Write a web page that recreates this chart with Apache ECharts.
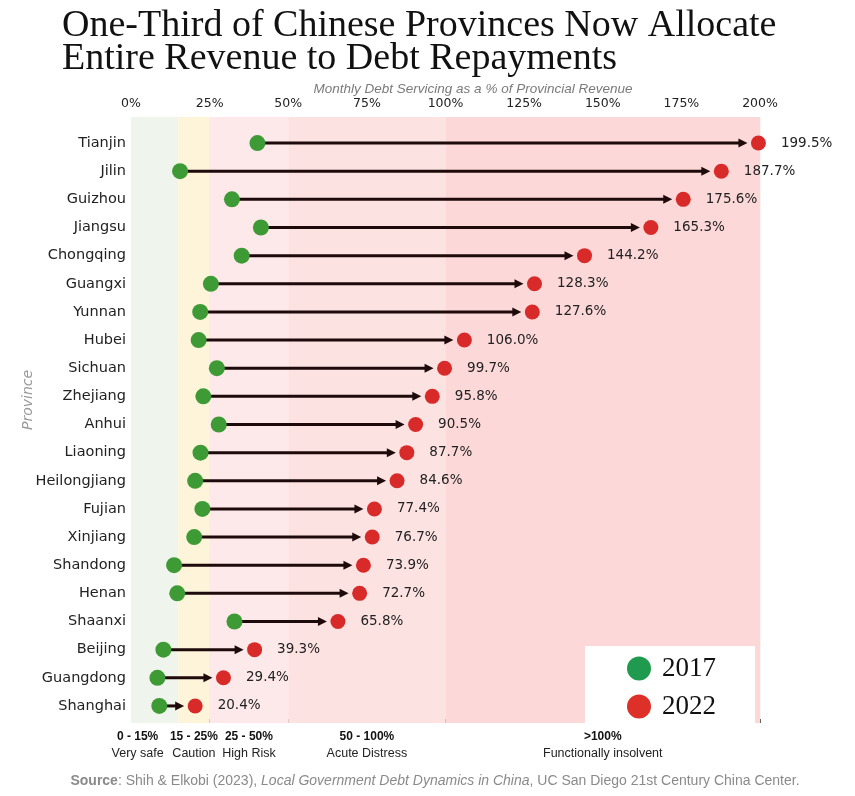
<!DOCTYPE html>
<html>
<head>
<meta charset="utf-8">
<script src="https://cdn.jsdelivr.net/npm/echarts@6/dist/echarts.min.js"></script>
<style>
  html, body { margin: 0; padding: 0; background: #fff; }
  #chart { width: 855px; height: 796px; }
</style>
</head>
<body>
<div id="chart"></div>
<script>
// provinces, top to bottom
const provinces = ['Tianjin', 'Jilin', 'Guizhou', 'Jiangsu', 'Chongqing', 'Guangxi', 'Yunnan', 'Hubei',
  'Sichuan', 'Zhejiang', 'Anhui', 'Liaoning', 'Heilongjiang', 'Fujian', 'Xinjiang', 'Shandong',
  'Henan', 'Shaanxi', 'Beijing', 'Guangdong', 'Shanghai'];
// monthly debt servicing as % of provincial revenue
const debt2017 = [40.2, 15.6, 32.1, 41.3, 35.2, 25.4, 22.0, 21.5, 27.3, 23.0, 27.9,
  22.1, 20.4, 22.7, 20.1, 13.7, 14.7, 32.9, 10.3, 8.4, 9.0];
const debt2022 = [199.5, 187.7, 175.6, 165.3, 144.2, 128.3, 127.6, 106.0, 99.7, 95.8, 90.5,
  87.7, 84.6, 77.4, 76.7, 73.9, 72.7, 65.8, 39.3, 29.4, 20.4];

// risk bands
const bandEdges = [0, 15, 25, 50, 100, 200];
const bandRanges = ['0 - 15%', '15 - 25%', '25 - 50%', '50 - 100%', '>100%'];
const bandNames = ['Very safe', 'Caution', 'High Risk', 'Acute Distress', 'Functionally insolvent'];
const bandColors = ['#eff5ed', '#fdf4da', '#fde9e9', '#fde2e2', '#fdd8d8'];

const GREEN = '#3d9a34';
const RED = '#d92a2a';
const ARROW = '#1e0a0a';
const sans = "'Liberation Sans', sans-serif";

const chart = echarts.init(document.getElementById('chart'));

const bandAreas = bandEdges.slice(0, -1).map((from, i) => [
  {
    xAxis: from,
    itemStyle: { color: bandColors[i] },
    label: {
      show: true,
      position: 'bottom',
      distance: 5,
      offset: i === 0 ? [-17, 0] : [0, 0],
      formatter: '{b|' + bandRanges[i] + '}\n{n|' + bandNames[i] + '}',
      rich: {
        b: { fontFamily: sans, fontWeight: 'bold', fontSize: 12, color: '#111', lineHeight: 17, align: 'center' },
        n: { fontFamily: sans, fontSize: 12.5, color: '#222', lineHeight: 17, align: 'center' }
      }
    }
  },
  { xAxis: bandEdges[i + 1] }
]);

const option = {
  backgroundColor: '#fff',
  animation: false,
  title: [
    {
      text: 'One-Third of Chinese Provinces Now Allocate\nEntire Revenue to Debt Repayments',
      left: 57,
      top: 5,
      textStyle: {
        fontFamily: "'Liberation Serif', serif",
        fontWeight: 'normal',
        fontSize: 38,
        lineHeight: 33,
        color: '#111'
      }
    },
    {
      text: 'Monthly Debt Servicing as a % of Provincial Revenue',
      left: 468,
      top: 77,
      textAlign: 'center',
      textStyle: {
        fontFamily: sans,
        fontStyle: 'italic',
        fontWeight: 'normal',
        fontSize: 13.5,
        color: '#7a7a7a'
      }
    },
    {
      text: '{b|Source}: Shih & Elkobi (2023), {i|Local Government Debt Dynamics in China}, UC San Diego 21st Century China Center.',
      left: 430,
      top: 769,
      textAlign: 'center',
      textStyle: {
        fontFamily: sans,
        fontWeight: 'normal',
        fontSize: 14,
        color: '#8a8a8a',
        rich: {
          b: { fontFamily: sans, fontWeight: 'bold', fontSize: 14, color: '#8a8a8a' },
          i: { fontFamily: sans, fontStyle: 'italic', fontSize: 14, color: '#8a8a8a' }
        }
      }
    }
  ],
  legend: {
    orient: 'vertical',
    left: 585,
    top: 646,
    padding: [9, 39, 8, 42],
    itemGap: 11,
    itemWidth: 24,
    itemHeight: 24,
    icon: 'circle',
    backgroundColor: '#fff',
    textStyle: {
      fontFamily: "'Liberation Serif', serif",
      fontSize: 27,
      color: '#111',
      padding: [0, 0, 0, 6]
    },
    data: [
      { name: '2017', itemStyle: { color: '#1f9a4e' } },
      { name: '2022', itemStyle: { color: '#dc3028' } }
    ]
  },
  graphic: [
    {
      type: 'text',
      x: 28,
      y: 400,
      rotation: Math.PI / 2,
      style: {
        text: 'Province',
        fontFamily: "'DejaVu Sans', sans-serif",
        fontStyle: 'italic',
        fontSize: 14,
        fill: '#999',
        align: 'center',
        verticalAlign: 'middle'
      }
    }
  ],
  grid: [
    { left: 131, right: 95, top: 129, bottom: 76 },
    { left: 131, right: 95, top: 117, bottom: 73 }
  ],
  xAxis: [
    { type: 'value', gridIndex: 0, min: 0, max: 200, interval: 25, show: false },
    {
      type: 'value',
      gridIndex: 1,
      position: 'top',
      min: 0,
      max: 200,
      interval: 25,
      axisLine: { show: false },
      axisTick: { show: true, length: 4, lineStyle: { color: '#666' } },
      axisLabel: {
        margin: 7,
        formatter: '{value}%',
        fontFamily: "'DejaVu Sans', sans-serif",
        fontSize: 12.5,
        color: '#222'
      },
      splitLine: { show: true, lineStyle: { color: 'rgba(120,60,60,0.06)', width: 1 } }
    }
  ],
  yAxis: [
    {
      type: 'category',
      gridIndex: 0,
      inverse: true,
      data: provinces,
      axisLine: { show: false },
      axisTick: { show: false },
      axisLabel: {
        margin: 5,
        fontFamily: "'DejaVu Sans', sans-serif",
        fontSize: 14.5,
        color: '#222'
      }
    },
    { type: 'value', gridIndex: 1, min: 0, max: 1, show: false }
  ],
  series: [
    {
      type: 'line',
      xAxisIndex: 1,
      yAxisIndex: 1,
      z: -1,
      silent: true,
      data: [],
      markArea: { silent: true, data: bandAreas }
    },
    {
      type: 'custom',
      xAxisIndex: 0,
      yAxisIndex: 0,
      z: 3,
      silent: true,
      data: provinces.map((p, i) => [debt2017[i], i, debt2022[i]]),
      encode: { x: [0, 2], y: 1 },
      renderItem: function (params, api) {
        const p1 = api.coord([api.value(0), api.value(1)]);
        const p2 = api.coord([api.value(2), api.value(1)]);
        const y = p1[1];
        const tip = p2[0] - 11;
        return {
          type: 'group',
          children: [
            { type: 'line', shape: { x1: p1[0], y1: y, x2: tip - 6, y2: y }, style: { stroke: ARROW, lineWidth: 3 } },
            { type: 'polygon', shape: { points: [[tip, y], [tip - 9, y - 4.5], [tip - 9, y + 4.5]] }, style: { fill: ARROW } }
          ]
        };
      }
    },
    {
      name: '2017',
      type: 'scatter',
      xAxisIndex: 0,
      yAxisIndex: 0,
      z: 4,
      symbolSize: 16,
      itemStyle: { color: GREEN, opacity: 1 },
      data: provinces.map((p, i) => [debt2017[i], p])
    },
    {
      name: '2022',
      type: 'scatter',
      xAxisIndex: 0,
      yAxisIndex: 0,
      z: 4,
      symbolSize: 15,
      itemStyle: { color: RED, opacity: 1 },
      label: {
        show: true,
        position: 'right',
        distance: 15,
        formatter: (d) => d.value[0].toFixed(1) + '%',
        fontFamily: "'DejaVu Sans', sans-serif",
        fontSize: 13.5,
        color: '#222'
      },
      data: provinces.map((p, i) => [debt2022[i], p])
    }
  ]
};

chart.setOption(option);
</script>
</body>
</html>
